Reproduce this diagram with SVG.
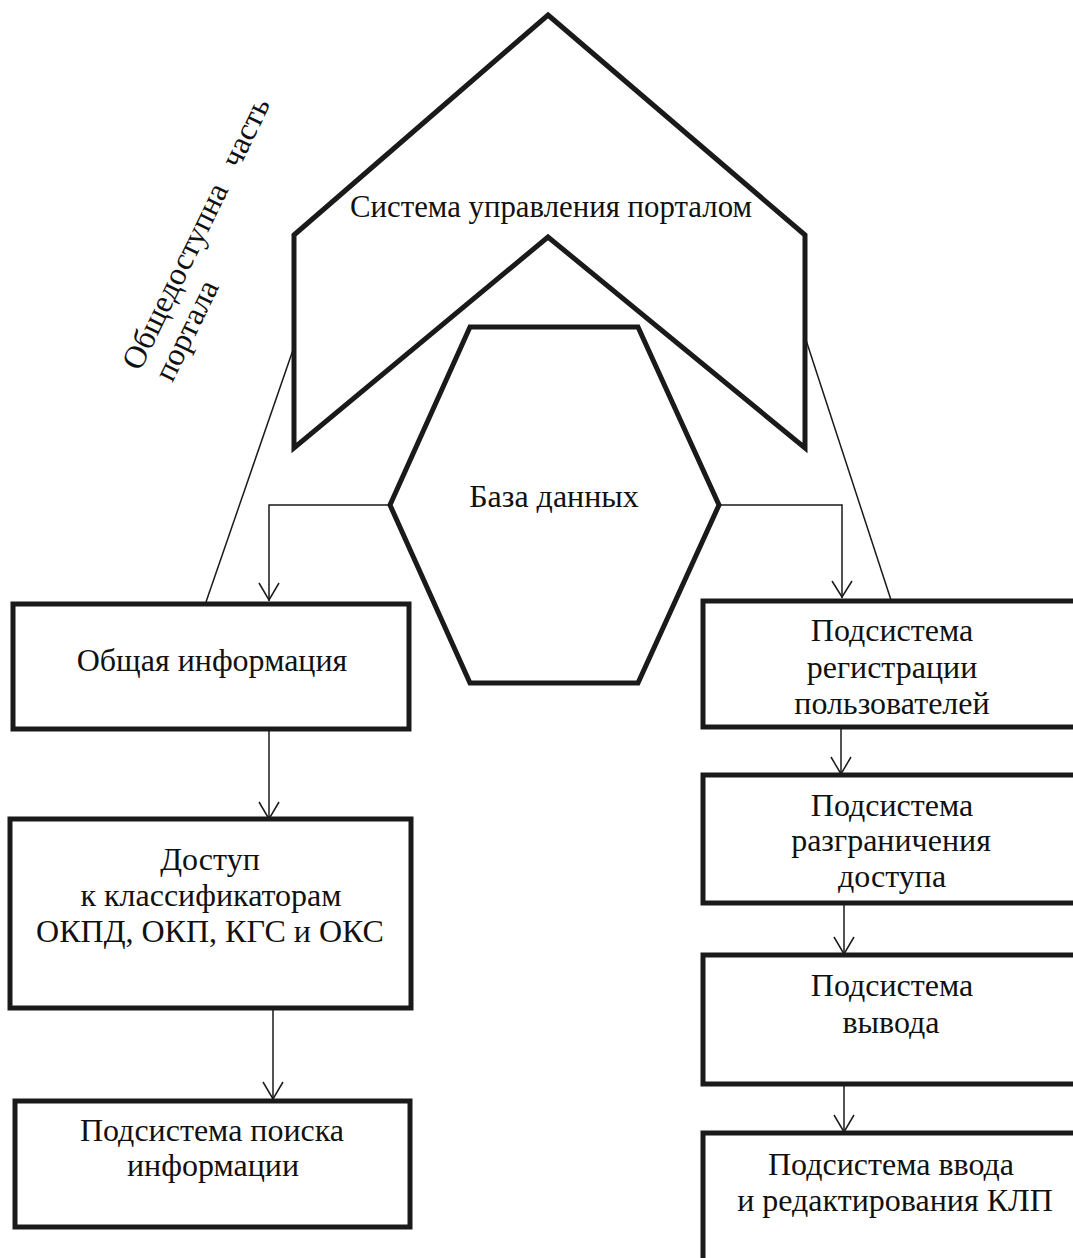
<svg xmlns="http://www.w3.org/2000/svg" width="1073" height="1258" viewBox="0 0 1073 1258">
<style>
.shape{fill:none;stroke:#1a1a1a;stroke-width:5;stroke-linejoin:miter}
.box{fill:#fff;stroke:#1a1a1a;stroke-width:5}
.conn{fill:none;stroke:#1a1a1a;stroke-width:1.5}
.t{font-family:"Liberation Serif","Times New Roman",serif;font-size:32px;fill:#111;text-anchor:middle}
</style>
<rect width="1073" height="1258" fill="#fff"/>
<g id="connectors">
<line class="conn" x1="294" y1="347" x2="206" y2="602"/>
<line class="conn" x1="806" y1="340" x2="891" y2="600"/>
<polyline class="conn" points="390,505 269,505 269,601"/>
<polyline class="conn" points="259,583 269,600 279,583"/>
<polyline class="conn" points="719,505 842,505 842,598"/>
<polyline class="conn" points="832,581 842,597 852,581"/>
<line class="conn" x1="269" y1="730" x2="269" y2="819"/>
<polyline class="conn" points="259,802 269,819 279,802"/>
<line class="conn" x1="273" y1="1008" x2="273" y2="1100"/>
<polyline class="conn" points="263,1082 273,1099 283,1082"/>
<line class="conn" x1="841" y1="727" x2="841" y2="774"/>
<polyline class="conn" points="831,757 841,774 851,757"/>
<line class="conn" x1="844" y1="903" x2="844" y2="954"/>
<polyline class="conn" points="834,937 844,954 854,937"/>
<line class="conn" x1="844" y1="1084" x2="844" y2="1132"/>
<polyline class="conn" points="834,1115 844,1132 854,1115"/>
</g>
<g id="portal-control">
<polygon class="shape" points="548,15 805,235 805,448 548,237 294,448 294,235"/>
<text class="t" x="551" y="217" textLength="402" lengthAdjust="spacingAndGlyphs">Система управления порталом</text>
</g>
<g id="database">
<polygon class="shape" points="470,327 638,327 719,505 638,683 470,683 390,505"/>
<text class="t" x="554" y="507">База данных</text>
</g>
<g id="public-part">
<text class="t" style="text-anchor:start" transform="translate(140,372) rotate(-64)"><tspan x="0" y="0">Общедоступна </tspan><tspan dx="14">часть</tspan><tspan x="4" y="34">портала</tspan></text>
</g>
<g id="general-info">
<rect class="box" x="13" y="604" width="396" height="125"/>
<text class="t" x="212" y="671">Общая информация</text>
</g>
<g id="classifiers">
<rect class="box" x="10" y="819" width="401" height="189"/>
<text class="t" x="210" y="870">Доступ</text>
<text class="t" x="211" y="906">к классификаторам</text>
<text class="t" x="210" y="942">ОКПД, ОКП, КГС и ОКС</text>
</g>
<g id="search">
<rect class="box" x="15" y="1101" width="395" height="126"/>
<text class="t" x="212" y="1141">Подсистема поиска</text>
<text class="t" x="213" y="1176">информации</text>
</g>
<g id="registration">
<rect class="box" x="703" y="601" width="390" height="126"/>
<text class="t" x="892" y="641">Подсистема</text>
<text class="t" x="892" y="678">регистрации</text>
<text class="t" x="892" y="714">пользователей</text>
</g>
<g id="access">
<rect class="box" x="703" y="775" width="390" height="128"/>
<text class="t" x="892" y="816">Подсистема</text>
<text class="t" x="891" y="851">разграничения</text>
<text class="t" x="892" y="887">доступа</text>
</g>
<g id="output">
<rect class="box" x="703" y="955" width="390" height="129"/>
<text class="t" x="892" y="996">Подсистема</text>
<text class="t" x="891" y="1033">вывода</text>
</g>
<g id="input">
<rect class="box" x="703" y="1133" width="390" height="160"/>
<text class="t" x="891" y="1175">Подсистема ввода</text>
<text class="t" x="895" y="1211">и редактирования КЛП</text>
</g>
</svg>
